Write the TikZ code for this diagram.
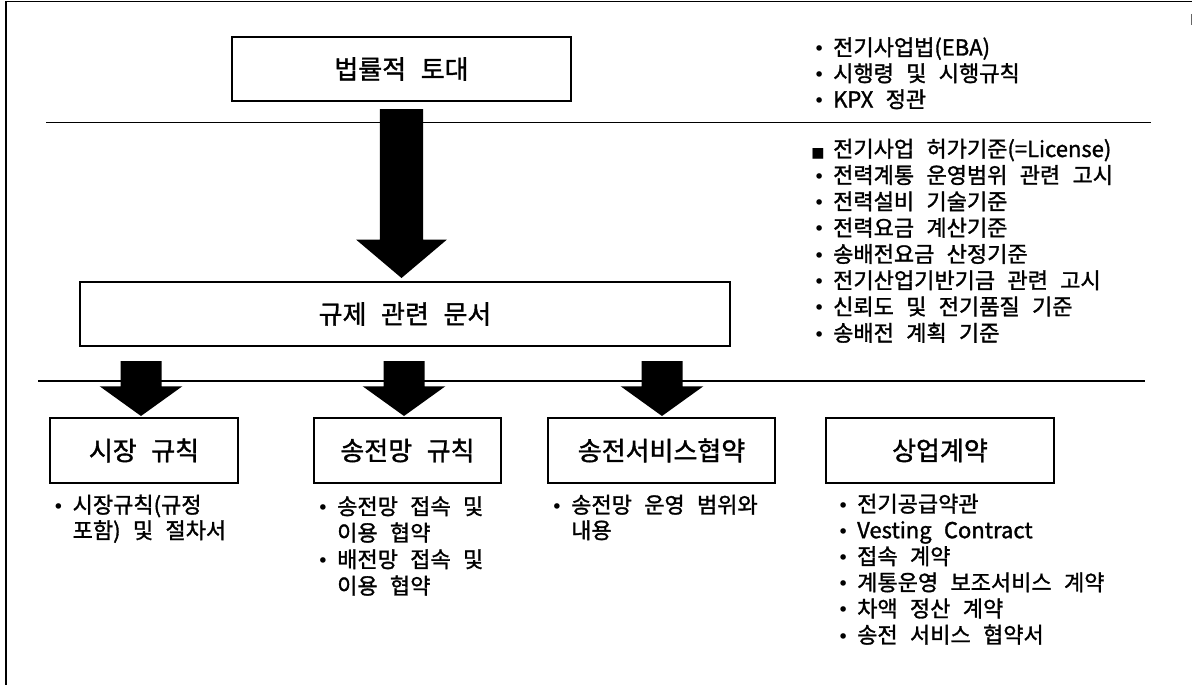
\documentclass[tikz,border=0pt]{standalone}
\usepackage{fontspec}
\setmainfont{Noto Sans CJK KR}[WordSpace=2.5, FakeBold=1.4]
\newfontfamily\symfont{DejaVu Sans}
\usetikzlibrary{calc}
\newcommand\bul{\llap{{\symfont\fontsize{19}{19}\selectfont •}\hspace{8.5pt}}}
\newcommand\sqbul{\llap{{\symfont\fontsize{14}{14}\selectfont ■}\hspace{8.5pt}}}
% #1 start coordinate, #2 tip coordinate, #3 shaft half width, #4 head half width, #5 head length
\newcommand\blockarrow[5]{%
  \fill[black] ($(#1)+(-#3,0)$) -- ($(#1)+(#3,0)$) -- ($(#2)+(#3,-#5)$) -- ($(#2)+(#4,-#5)$)
    -- (#2) -- ($(#2)+(-#4,-#5)$) -- ($(#2)+(-#3,-#5)$) -- cycle;}
\begin{document}
\begin{tikzpicture}[x=1pt,y=-1pt,
  box/.style={draw, line width=1.1pt, inner sep=0pt, outer sep=0pt, minimum height=64pt,
    font=\fontsize{26}{30}\selectfont},
  item/.style={anchor=base west, inner sep=0pt, font=\fontsize{22}{26}\selectfont},
  sep/.style={line width=1.1pt}]
\useasboundingbox (0,0) rectangle (1192,685);
% frame fragments
\draw[sep] (5,1.5) -- (1192,1.5);
\draw[sep] (6,1.5) -- (6,685);
\draw[line width=1pt, black!60] (1191,14) -- (1191,25);
% separator lines
\draw[sep] (46,122.7) -- (1151,122.7);
\draw[sep] (38,381) -- (1145,381);
% boxes
\node[box, minimum width=339pt] (law) at (401.5,69) {법률적 토대};
\node[box, minimum width=650pt] (reg) at (405,314) {규제 관련 문서};
\node[box, minimum width=188pt, minimum height=65pt] (mkt) at (144,450.5) {시장 규칙};
\node[box, minimum width=187pt, minimum height=65pt] (grid) at (407.5,450.5) {송전망 규칙};
\node[box, minimum width=227pt, minimum height=65pt] (tsa) at (661.5,450.5) {송전서비스협약};
\node[box, minimum width=228pt, minimum height=65pt] (com) at (940,450.5) {상업계약};
% block arrows
\coordinate (s0) at ($(law.south)+(0,8)$);
\coordinate (t0) at ($(law.south |- reg.north)+(0,-4)$);
\blockarrow{s0}{t0}{21.7}{45.3}{38.3}
\coordinate (s1) at (141,361);
\coordinate (t1) at ($(s1 |- mkt.north)+(0,-2)$);
\blockarrow{s1}{t1}{20.5}{41.3}{29.7}
\coordinate (s2) at (404,361);
\coordinate (t2) at ($(s2 |- grid.north)+(0,-2)$);
\blockarrow{s2}{t2}{20.5}{41.3}{29.7}
\coordinate (s3) at (662,361);
\coordinate (t3) at ($(s3 |- tsa.north)+(0,-2)$);
\blockarrow{s3}{t3}{20.5}{41.3}{29.7}
% right lists
\foreach \t [count=\i] in {전기사업법(EBA),시행령 및 시행규칙,KPX 정관}
  \node[item] (r1-\i) at (833,{55.5+26*(\i-1)}) {\bul\t};
\node[item] (r2-1) at (833,157) {\sqbul 전기사업 허가기준(=License)};
\foreach \t [count=\i from 2] in {전력계통 운영범위 관련 고시,전력설비 기술기준,전력요금 계산기준,송배전요금 산정기준,전기산업기반기금 관련 고시,신뢰도 및 전기품질 기준,송배전 계획 기준}
  \node[item] (r2-\i) at (833,{157+26.3*(\i-1)}) {\bul\t};
% bottom lists
\node[item] (a-1) at (72.5,513) {\bul 시장규칙(규정};
\node[item] (a-2) at (72.5,538.5) {포함) 및 절차서};
\node[item] (b-1) at (337,514.5) {\bul 송전망 접속 및};
\node[item] (b-2) at (337,541) {이용 협약};
\node[item] (b-3) at (337,567.5) {\bul 배전망 접속 및};
\node[item] (b-4) at (337,594) {이용 협약};
\node[item] (c-1) at (571,513) {\bul 송전망 운영 범위와};
\node[item] (c-2) at (571,538.5) {내용};
\foreach \t [count=\i] in {전기공급약관,Vesting Contract,접속 계약,계통운영 보조서비스 계약,차액 정산 계약,송전 서비스 협약서}
  \node[item] (d-\i) at (857,{512+26.2*(\i-1)}) {\bul\t};
\end{tikzpicture}
\end{document}
